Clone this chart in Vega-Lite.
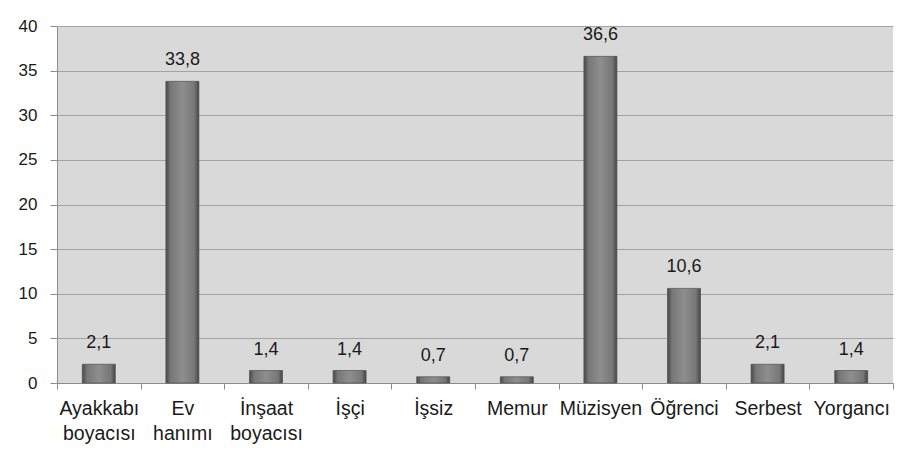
{
  "$schema": "https://vega.github.io/schema/vega-lite/v6.json",
  "width": 836,
  "height": 357,
  "autosize": {"type": "none"},
  "padding": {"left": 57, "top": 26, "right": 23, "bottom": 77},
  "background": "white",
  "config": {
    "view": {"fill": "#d9d9d9", "stroke": null},
    "font": "Liberation Sans"
  },
  "data": {
    "values": [
      {"meslek": "Ayakkabı boyacısı", "yuzde": 2.1, "etiket": "2,1"},
      {"meslek": "Ev hanımı", "yuzde": 33.8, "etiket": "33,8"},
      {"meslek": "İnşaat boyacısı", "yuzde": 1.4, "etiket": "1,4"},
      {"meslek": "İşçi", "yuzde": 1.4, "etiket": "1,4"},
      {"meslek": "İşsiz", "yuzde": 0.7, "etiket": "0,7"},
      {"meslek": "Memur", "yuzde": 0.7, "etiket": "0,7"},
      {"meslek": "Müzisyen", "yuzde": 36.6, "etiket": "36,6"},
      {"meslek": "Öğrenci", "yuzde": 10.6, "etiket": "10,6"},
      {"meslek": "Serbest", "yuzde": 2.1, "etiket": "2,1"},
      {"meslek": "Yorgancı", "yuzde": 1.4, "etiket": "1,4"}
    ]
  },
  "encoding": {
    "x": {
      "field": "meslek",
      "type": "nominal",
      "sort": null,
      "scale": {"paddingInner": 0, "paddingOuter": 0},
      "axis": {
        "title": null,
        "labelAngle": 0,
        "labelExpr": "split(datum.label, ' ')",
        "labelFont": "Liberation Sans",
        "labelFontSize": 19.5,
        "labelLineHeight": 25,
        "labelColor": "#1a1a1a",
        "labelPadding": 10,
        "tickBand": "extent",
        "tickSize": 6,
        "tickColor": "#8c8c8c",
        "domainColor": "#8c8c8c",
        "grid": false
      }
    },
    "y": {
      "field": "yuzde",
      "type": "quantitative",
      "scale": {"domain": [0, 40]},
      "axis": {
        "title": null,
        "values": [0, 5, 10, 15, 20, 25, 30, 35, 40],
        "labelFont": "Liberation Sans",
        "labelFontSize": 17,
        "labelColor": "#1a1a1a",
        "labelPadding": 13,
        "tickSize": 7,
        "tickColor": "#8c8c8c",
        "domainColor": "#8c8c8c",
        "grid": true,
        "gridColor": "#a3a3a3",
        "gridWidth": 1
      }
    }
  },
  "layer": [
    {
      "mark": {
        "type": "bar",
        "width": {"band": 0.395},
        "stroke": "#505050",
        "strokeWidth": 0.7,
        "color": {
          "gradient": "linear",
          "x1": 0, "y1": 0, "x2": 1, "y2": 0,
          "stops": [
            {"offset": 0, "color": "#484848"},
            {"offset": 0.14, "color": "#777777"},
            {"offset": 0.5, "color": "#8e8e8e"},
            {"offset": 0.86, "color": "#777777"},
            {"offset": 1, "color": "#444444"}
          ]
        }
      }
    },
    {
      "mark": {
        "type": "text",
        "baseline": "alphabetic",
        "dy": -16,
        "font": "Liberation Sans",
        "fontSize": 18,
        "color": "#1a1a1a"
      },
      "encoding": {"text": {"field": "etiket"}}
    }
  ]
}
